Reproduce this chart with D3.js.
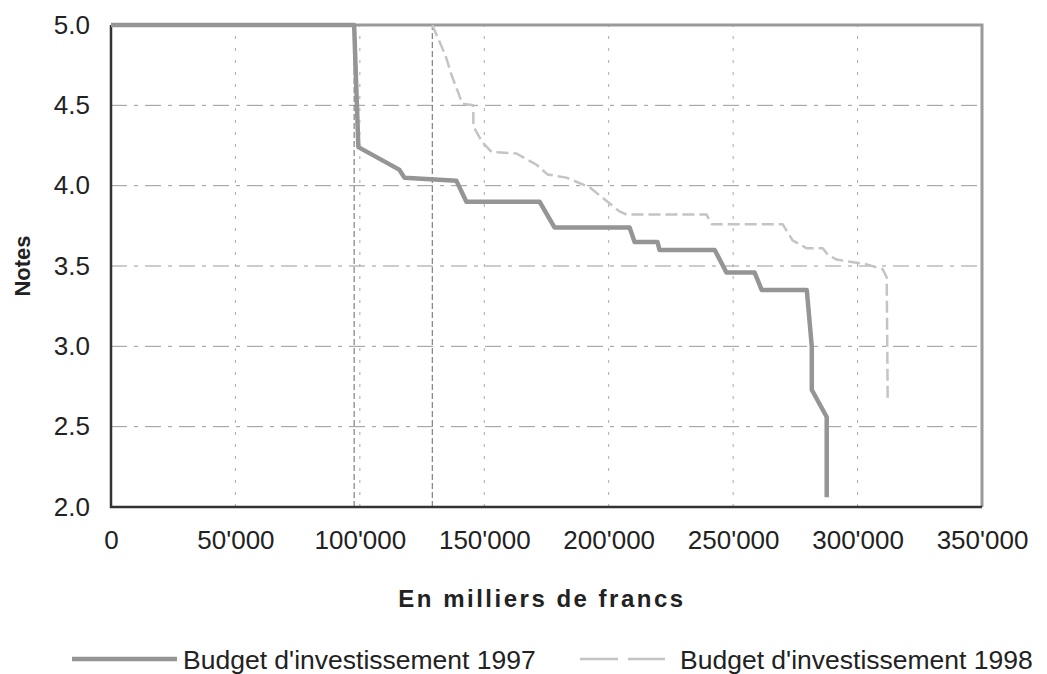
<!DOCTYPE html>
<html>
<head>
<meta charset="utf-8">
<script src="https://cdn.jsdelivr.net/npm/d3@7"></script>
<style>
  body { margin: 0; background: #fff; }
  text { font-family: Arial, "Liberation Sans", sans-serif; fill: #222; }
</style>
</head>
<body>
<div id="chart"></div>
<script>
// Chart size
const width = 1047;
const height = 674;
const margin = { top: 25, right: 65, bottom: 167, left: 111 };

// Data: cumulative budget (thousands of francs) vs note
const budget1997 = [0, 97.7, 99.4, 115.8, 117.9, 138.8, 142.8, 172.2, 178.2, 208.4, 210.4, 219.6, 220.4, 242.6, 247.3, 258.6, 261.5, 279.6, 281.6, 281.6, 287.6, 287.6];
const notes1997 = [5.0, 5.0, 4.24, 4.10, 4.05, 4.03, 3.90, 3.90, 3.74, 3.74, 3.65, 3.65, 3.60, 3.60, 3.46, 3.46, 3.35, 3.35, 3.0, 2.73, 2.56, 2.06];

const budget1998 = [129.1, 134.4, 136.8, 141.2, 145.6, 145.6, 149.2, 152.9, 162.9, 171.0, 175.4, 183.0, 192.3, 196.3, 200.3, 204.3, 207.2, 239.3, 241.4, 269.9, 273.9, 279.6, 286.0, 288.0, 291.6, 299.7, 303.7, 310.1, 311.7, 312.1];
const notes1998 = [5.0, 4.81, 4.69, 4.51, 4.50, 4.37, 4.27, 4.21, 4.20, 4.13, 4.07, 4.05, 3.99, 3.94, 3.89, 3.84, 3.82, 3.82, 3.76, 3.76, 3.66, 3.61, 3.61, 3.57, 3.54, 3.52, 3.51, 3.48, 3.43, 2.67];

// Where each series leaves the 5.0 line (thin drop lines in the original)
const dropX = [97.7, 129.1];

const xTicks = [0, 50, 100, 150, 200, 250, 300, 350];
const yTicks = [2.0, 2.5, 3.0, 3.5, 4.0, 4.5, 5.0];
const seriesNames = ["Budget d'investissement 1997", "Budget d'investissement 1998"];

const toPoints = (xs, ys) => xs.map((x, i) => ({ x: x, y: ys[i] }));
const series = [
    { name: seriesNames[0], pts: toPoints(budget1997, notes1997), color: '#959595', w: 4.5, dash: null },
    { name: seriesNames[1], pts: toPoints(budget1998, notes1998), color: '#c4c4c4', w: 2.5, dash: '12,5' }
];

// Scales
const xScale = d3.scaleLinear()
    .domain([0, 350])
    .range([margin.left, width - margin.right]);

const yScale = d3.scaleLinear()
    .domain([2, 5])
    .range([height - margin.bottom, margin.top]);

const svg = d3.select('#chart')
    .append('svg')
    .attr('width', width)
    .attr('height', height);

const fmtX = d => d === 0 ? '0' : d3.format(',')(d * 1000).replace(/,/g, "'");

// Gridlines
svg.append('g')
    .selectAll('line')
    .data(yTicks.slice(1, -1))
    .enter()
    .append('line')
    .attr('x1', xScale(0))
    .attr('x2', xScale(350))
    .attr('y1', d => yScale(d))
    .attr('y2', d => yScale(d))
    .attr('stroke', '#999')
    .attr('stroke-width', 1)
    .attr('stroke-dasharray', '16,7,4,7');

svg.append('g')
    .selectAll('line')
    .data(xTicks.slice(1, -1))
    .enter()
    .append('line')
    .attr('x1', d => xScale(d))
    .attr('x2', d => xScale(d))
    .attr('y1', yScale(2))
    .attr('y2', yScale(5))
    .attr('stroke', '#aaa')
    .attr('stroke-width', 1)
    .attr('stroke-dasharray', '3,9');

// Drop lines
svg.append('g')
    .selectAll('line')
    .data(dropX)
    .enter()
    .append('line')
    .attr('x1', d => xScale(d))
    .attr('x2', d => xScale(d))
    .attr('y1', yScale(2))
    .attr('y2', yScale(5))
    .attr('stroke', '#666')
    .attr('stroke-width', 1)
    .attr('stroke-dasharray', '6,3');

// Plot frame: gray top/right, dark left/bottom
svg.append('path')
    .attr('d', `M${xScale(0)},${yScale(5)}H${xScale(350)}V${yScale(2)}`)
    .attr('fill', 'none')
    .attr('stroke', '#9a9a9a')
    .attr('stroke-width', 3);

svg.append('path')
    .attr('d', `M${xScale(0)},${yScale(5)}V${yScale(2)}H${xScale(350)}`)
    .attr('fill', 'none')
    .attr('stroke', '#333')
    .attr('stroke-width', 2.5);

// Series lines
const line = d3.line()
    .x(d => xScale(d.x))
    .y(d => yScale(d.y));

svg.selectAll('.series')
    .data(series)
    .enter()
    .append('path')
    .attr('class', 'series')
    .attr('d', d => line(d.pts))
    .attr('fill', 'none')
    .attr('stroke', d => d.color)
    .attr('stroke-width', d => d.w)
    .attr('stroke-dasharray', d => d.dash)
    .attr('stroke-linejoin', 'round');

// Axes
const xAxis = d3.axisBottom(xScale).tickValues(xTicks).tickFormat(fmtX).tickSize(0).tickPadding(24);
const yAxis = d3.axisLeft(yScale).tickValues(yTicks).tickFormat(d3.format('.1f')).tickSize(0).tickPadding(21);

svg.append('g')
    .attr('transform', `translate(0, ${height - margin.bottom})`)
    .call(xAxis)
    .call(g => g.select('.domain').remove())
    .selectAll('text')
    .attr('font-size', 26)
    .attr('font-family', 'Arial, Liberation Sans, sans-serif')
    .attr('fill', '#222');

svg.append('g')
    .attr('transform', `translate(${margin.left}, 0)`)
    .call(yAxis)
    .call(g => g.select('.domain').remove())
    .selectAll('text')
    .attr('font-size', 26)
    .attr('font-family', 'Arial, Liberation Sans, sans-serif')
    .attr('fill', '#222');

// Axis titles
svg.append('text')
    .attr('x', 542)
    .attr('y', 607)
    .attr('text-anchor', 'middle')
    .attr('font-size', 24)
    .attr('font-weight', 'bold')
    .attr('letter-spacing', 2.5)
    .text('En milliers de francs');

svg.append('text')
    .attr('transform', `translate(30, ${yScale(3.5)}) rotate(-90)`)
    .attr('text-anchor', 'middle')
    .attr('font-size', 22)
    .attr('font-weight', 'bold')
    .text('Notes');

// Legend
const legendX = [72, 580];
const legend = svg.selectAll('.legend')
    .data(series)
    .enter()
    .append('g')
    .attr('class', 'legend')
    .attr('transform', (d, i) => `translate(${legendX[i]}, 659)`);

legend.append('line')
    .attr('x1', 0)
    .attr('x2', (d, i) => i === 0 ? 105 : 85)
    .attr('stroke', d => d.color)
    .attr('stroke-width', d => d.w)
    .attr('stroke-dasharray', (d, i) => i === 0 ? null : '38,10');

legend.append('text')
    .attr('x', (d, i) => i === 0 ? 111 : 100)
    .attr('dy', '0.36em')
    .attr('font-size', 26.5)
    .text(d => d.name);
</script>
</body>
</html>
